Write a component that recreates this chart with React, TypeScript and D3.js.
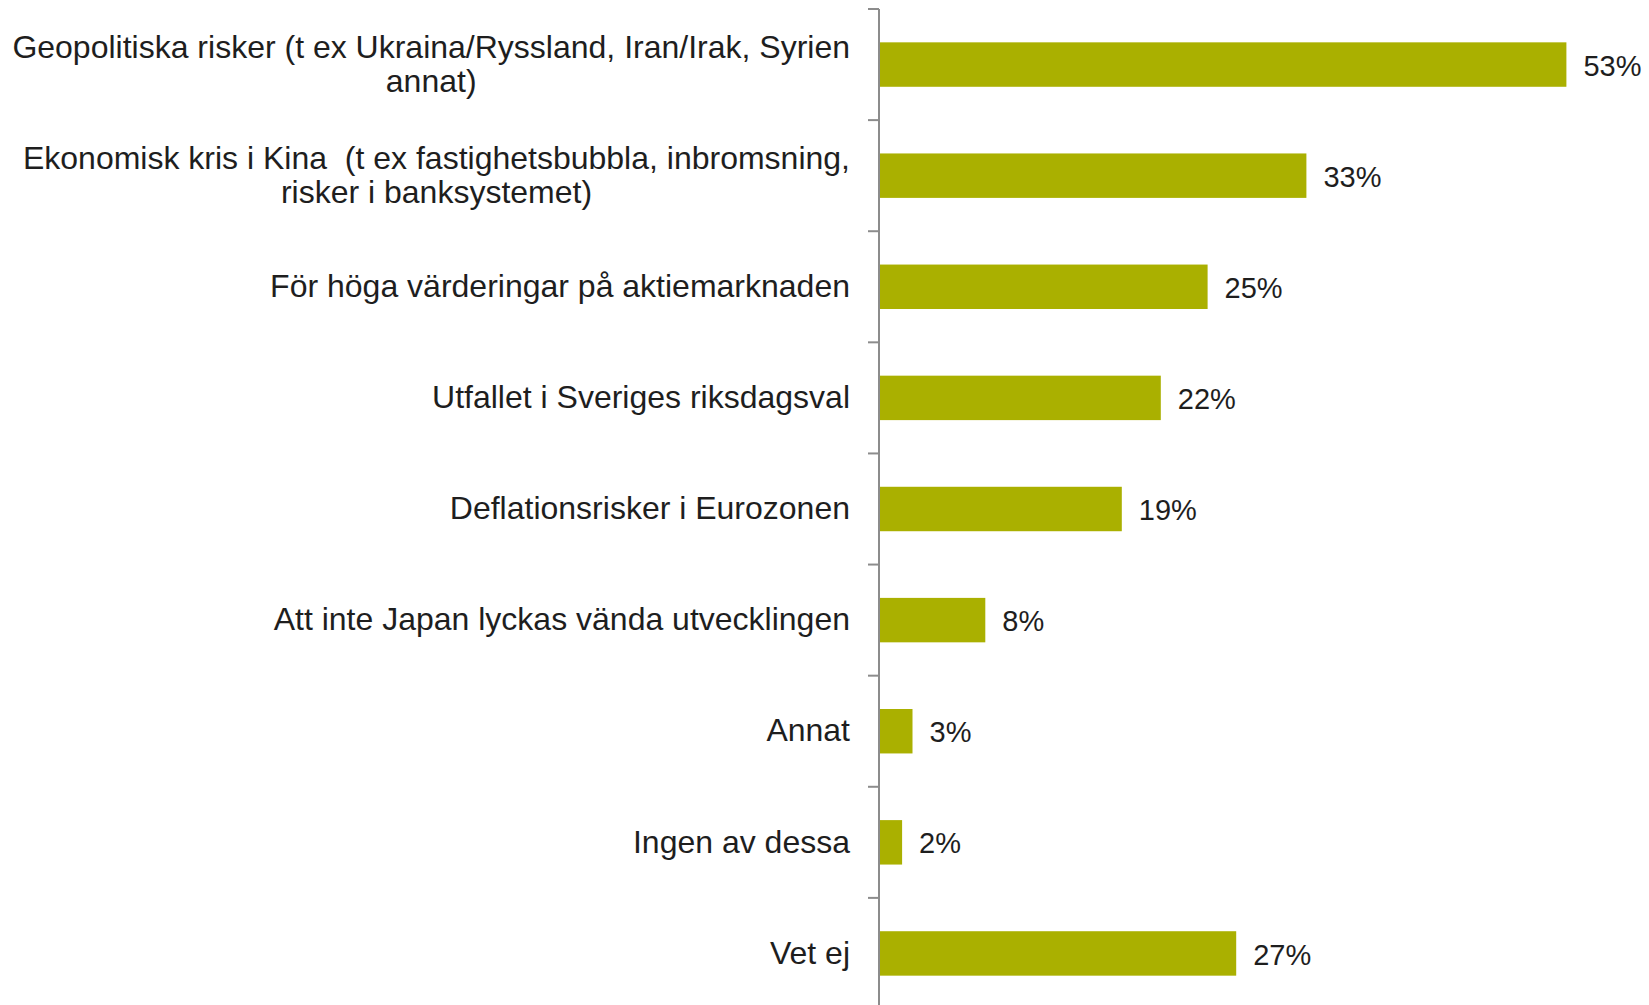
import React, { useEffect, useRef } from "react";
import * as d3 from "d3";

const categories: string[][] = [
  ["Geopolitiska risker (t ex Ukraina/Ryssland, Iran/Irak, Syrien", "annat)"],
  ["Ekonomisk kris i Kina  (t ex fastighetsbubbla, inbromsning,", "risker i banksystemet)"],
  ["För höga värderingar på aktiemarknaden"],
  ["Utfallet i Sveriges riksdagsval"],
  ["Deflationsrisker i Eurozonen"],
  ["Att inte Japan lyckas vända utvecklingen"],
  ["Annat"],
  ["Ingen av dessa"],
  ["Vet ej"],
];
const values: number[] = [52.8, 32.8, 25.2, 21.6, 18.6, 8.1, 2.5, 1.7, 27.4];

const W = 1649;
const H = 1005;
const BAR = "#AAB000";
const AXIS = "#8c8c8c";
const TEXT = "#1e1e1e";
const FONT = "'Liberation Sans', Arial, sans-serif";

export default function App() {
  const ref = useRef<SVGSVGElement>(null);
  useEffect(() => {
    const svg = d3.select(ref.current);
    svg.selectAll("*").remove();
    const x0 = 880;
    const x = d3.scaleLinear().domain([0, 100]).range([x0, x0 + 1300]);
    const ids = categories.map((_, i) => String(i));
    const y = d3.scaleBand<string>().domain(ids).range([9, 1009]).paddingInner(0.6).paddingOuter(0.3);
    const step = y.step();
    const top = 9;

    // bars
    svg.append("g").selectAll("rect").data(values).join("rect")
      .attr("x", x0)
      .attr("y", (_, i) => y(String(i))!)
      .attr("width", (d) => x(d) - x0)
      .attr("height", y.bandwidth())
      .attr("fill", BAR);

    // axis
    const ax = svg.append("g");
    ax.append("line").attr("x1", 879).attr("x2", 879).attr("y1", top).attr("y2", 1009)
      .attr("stroke", AXIS).attr("stroke-width", 2);
    const tickYs = d3.range(categories.length + 1).map((i) => top + i * step);
    ax.selectAll("line.t").data(tickYs).join("line").attr("class", "t")
      .attr("x1", 868).attr("x2", 879).attr("y1", (d) => d).attr("y2", (d) => d)
      .attr("stroke", AXIS).attr("stroke-width", 2);

    // value labels
    svg.append("g").selectAll("text").data(values).join("text")
      .attr("x", (d) => x(d) + 17)
      .attr("y", (_, i) => y(String(i))! + y.bandwidth() / 2 + 1)
      .attr("dy", "0.35em")
      .attr("font-family", FONT).attr("font-size", 29).attr("fill", TEXT)
      .text((d) => `${Math.round(d)}%`);

    // category labels
    const lg = svg.append("g");
    const right = 850;
    const lh = 34;
    categories.forEach((lines, i) => {
      const cy = y(String(i))! + y.bandwidth() / 2 - 1;
      const g = lg.append("g");
      const texts = lines.map((line, j) =>
        g.append("text")
          .attr("y", cy + (j - (lines.length - 1) / 2) * lh)
          .attr("dy", "0.35em")
          .style("white-space", "pre")
          .attr("font-family", FONT).attr("font-size", 32).attr("fill", TEXT)
          .text(line)
      );
      const maxW = d3.max(texts, (t) => (t.node() as SVGTextElement).getComputedTextLength()) || 0;
      texts.forEach((t) => {
        if (lines.length > 1) t.attr("text-anchor", "middle").attr("x", right - maxW / 2);
        else t.attr("text-anchor", "end").attr("x", right);
      });
    });
  }, []);
  return (
    <svg ref={ref} width={W} height={H}
      style={{ position: "absolute", left: 0, top: 0, display: "block", background: "#fff" }} />
  );
}
